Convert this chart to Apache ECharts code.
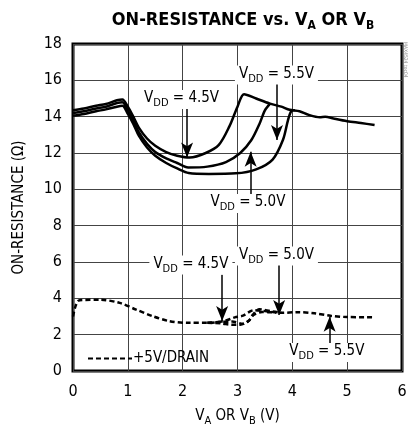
<!DOCTYPE html>
<html>
<head>
<meta charset="utf-8">
<script src="https://cdn.jsdelivr.net/npm/echarts@6/dist/echarts.min.js"></script>
<style>
html,body{margin:0;padding:0;background:#fff;}
#c{width:410px;height:435px;}
</style>
</head>
<body>
<div id="c"></div>
<script>
// ---- data ----
const FONT = '"Liberation Sans Narrow","DejaVu Sans Condensed","Roboto Condensed",sans-serif';

const r45 = [[0,14.35],[0.2,14.45],[0.42,14.6],[0.6,14.7],[0.8,14.9],[0.9,14.95],[1.0,14.55],[1.1,14.0],[1.2,13.4],[1.35,12.8],[1.5,12.4],[1.7,12.05],[1.9,11.85],[2.13,11.75],[2.42,12.0],[2.66,12.45],[2.85,13.45],[3.0,14.55],[3.12,15.24],[3.34,15.0],[3.58,14.73],[3.8,14.55],[3.95,14.38],[4.13,14.3],[4.3,14.1],[4.5,13.97],[4.6,14.0],[4.75,13.9],[5.0,13.75],[5.25,13.65],[5.5,13.54]];
const r50 = [[0,14.2],[0.2,14.3],[0.42,14.45],[0.6,14.55],[0.8,14.75],[0.9,14.8],[1.0,14.35],[1.1,13.8],[1.2,13.15],[1.35,12.5],[1.5,12.05],[1.7,11.7],[1.9,11.45],[2.1,11.2],[2.45,11.25],[2.79,11.5],[3.05,12.0],[3.25,12.7],[3.4,13.6],[3.5,14.35],[3.6,14.73]];
const r55 = [[0,14.05],[0.2,14.15],[0.42,14.3],[0.6,14.4],[0.8,14.55],[0.9,14.6],[1.0,14.15],[1.1,13.6],[1.2,12.95],[1.35,12.3],[1.5,11.85],[1.7,11.45],[1.9,11.15],[2.11,10.9],[2.48,10.85],[2.97,10.88],[3.34,11.1],[3.64,11.64],[3.83,12.73],[3.92,13.8],[3.98,14.3],[4.05,14.36]];

const d45 = [[0,3.0],[0.05,3.6],[0.12,3.9],[0.5,3.92],[0.85,3.75],[1.15,3.38],[1.45,3.02],[1.75,2.75],[2.1,2.65],[2.45,2.65],[2.75,2.75],[2.95,2.95],[3.1,3.05],[3.3,3.35],[3.5,3.3],[3.8,3.2],[4.1,3.24],[4.4,3.18],[4.7,3.04],[5.0,2.97],[5.47,2.96]];
const d50 = [[2.45,2.65],[2.7,2.62],[2.9,2.55],[3.05,2.55],[3.2,2.75],[3.28,3.1],[3.4,3.4],[3.6,3.3],[3.8,3.2]];
const d55 = [[2.45,2.65],[2.7,2.7],[2.9,2.72],[3.1,2.6],[3.2,2.75],[3.3,3.1],[3.45,3.25],[3.7,3.22]];

// annotation labels: [vdd text, x, y]
const labelVdd = ['5.5V','4.5V','5.0V','4.5V','5.0V','5.5V'];
const labelX   = [3.71, 1.98, 3.19, 2.15, 3.71, 4.63];
const labelY   = [16.3, 14.95, 9.22, 5.83, 6.33, 1.02];
// arrows: x, start y, tip y
const arrowX    = [3.72, 2.08, 3.24, 2.72, 3.76, 4.68];
const arrowFrom = [15.8, 14.45, 9.75, 5.3, 5.83, 1.54];
const arrowTip  = [12.71, 11.75, 12.07, 2.75, 3.08, 2.99];

const chart = echarts.init(document.getElementById('c'), null, {renderer:'canvas'});

const richStyles = {
  n: {fontFamily: FONT, fontSize: 15, color:'#000', verticalAlign:'bottom', padding:[0,0,3,0]},
  s: {fontFamily: FONT, fontSize: 11, color:'#000', verticalAlign:'bottom'}
};

const solid = {type:'line', showSymbol:false, symbol:'none', smooth:0.3, lineStyle:{color:'#000', width:2.5}, z:3, silent:true};
const dashed = {type:'line', showSymbol:false, symbol:'none', smooth:0.3, lineStyle:{color:'#000', width:2.5, type:[5,3]}, itemStyle:{color:'#000'}, z:3, silent:true};

const markPts = labelVdd.map((t,i)=>({
  coord:[labelX[i], labelY[i]],
  value: t
}));
const markLns = arrowX.map((x,i)=>[{coord:[x, arrowFrom[i]]},{coord:[x, arrowTip[i]]}]);

chart.setOption({
  animation:false,
  backgroundColor:'#fff',
  title:{
    text:'{b|ON-RESISTANCE vs. V}{bs|A}{b| OR V}{bs|B}',
    left: 238, textAlign:'center', top: 6,
    textStyle:{
      rich:{
        b:{fontFamily:FONT, fontSize:18, fontWeight:'bold', color:'#000', verticalAlign:'bottom', padding:[0,0,3,0]},
        bs:{fontFamily:FONT, fontSize:12, fontWeight:'bold', color:'#000', verticalAlign:'bottom'}
      }
    }
  },
  legend:{
    data:[{name:'+5V/DRAIN'}],
    left: 82, top: 346,
    itemWidth: 44, itemHeight: 14, itemGap: 0,
    itemStyle:{opacity:0},
    textStyle:{fontFamily:FONT, fontSize:15, color:'#000', padding:[0,0,0,-4]},
    selectedMode:false
  },
  grid:{left:73, right:8, top:44, bottom:64, show:true, borderColor:'#000', borderWidth:3, backgroundColor:'transparent'},
  xAxis:{
    type:'value', min:0, max:6, interval:1,
    name:'{n|V}{s|A}{n| OR V}{s|B}{n| (V)}',
    nameLocation:'middle', nameGap: 38,
    nameTextStyle:{rich: richStyles},
    axisLine:{show:false}, axisTick:{show:false},
    axisLabel:{fontFamily:FONT, fontSize:16, color:'#000', margin:13},
    splitLine:{show:true, lineStyle:{color:'#444', width:1}}
  },
  yAxis:{
    type:'value', min:0, max:18, interval:2,
    name:'ON-RESISTANCE (Ω)',
    nameLocation:'middle', nameGap: 46,
    nameTextStyle:{fontFamily:FONT, fontSize:15, color:'#000'},
    axisLine:{show:false}, axisTick:{show:false},
    axisLabel:{fontFamily:FONT, fontSize:16, color:'#000', margin:11},
    splitLine:{show:true, lineStyle:{color:'#444', width:1}}
  },
  series:[
    Object.assign({name:'r45', data:r45}, solid),
    Object.assign({name:'r50', data:r50}, solid),
    Object.assign({name:'r55', data:r55}, solid),
    Object.assign({name:'+5V/DRAIN', data:d45}, dashed),
    Object.assign({name:'d50', data:d50}, dashed),
    Object.assign({name:'d55', data:d55}, dashed),
    {
      type:'line', name:'annot', data:[], silent:true, z:5,
      markPoint:{
        symbol:'rect', symbolSize:0, silent:true,
        label:{
          show:true, position:'inside',
          formatter: p => '{n|V}{s|DD}{n| = ' + p.value + '}',
          backgroundColor:'#fff', padding:[1,4,0,4],
          rich: richStyles
        },
        data: markPts
      },
      markLine:{
        silent:true, symbol:['none','arrow'], symbolSize:[9,15],
        lineStyle:{color:'#000', width:1.5, type:'solid'},
        label:{show:false},
        data: markLns
      }
    }
  ],
  graphic:[{
    type:'text', left:403, top:42, rotation:-Math.PI/2,
    style:{text:'MAX4524 toc04', fontSize:5, fill:'#888', fontFamily:FONT}
  }]
});
</script>
</body>
</html>
